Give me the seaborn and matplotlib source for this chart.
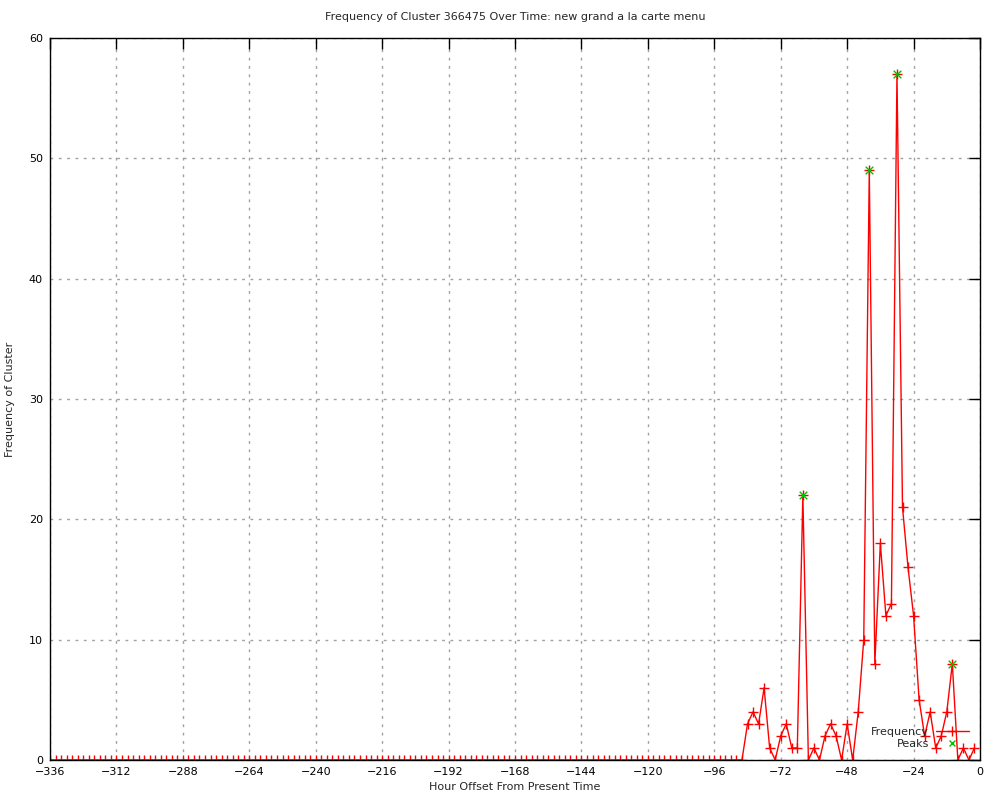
import numpy as np
import pandas as pd
import matplotlib
matplotlib.use("Agg")
import matplotlib.pyplot as plt
import seaborn as sns
from matplotlib.lines import Line2D

# hours from -336 to -2 in steps of 2; zero until -86
hours = list(range(-336, 0, 2))
recent_hours = list(range(-84, 0, 2))
recent_freq = [3, 4, 3, 6, 1, 0, 2, 3, 1, 1, 22, 0, 1, 0, 2, 3, 2, 0, 3, 0, 4,
               10, 49, 8, 18, 12, 13, 57, 21, 16, 12, 5, 2, 4, 1, 2, 4, 8, 0, 1, 0, 1]
freq = [0] * (len(hours) - len(recent_freq)) + recent_freq

peak_hours = [-64, -40, -30, -10]
peak_freq = [22, 49, 57, 8]

x_ticks = list(range(-336, 1, 24))
y_ticks = list(range(0, 61, 10))

df = pd.DataFrame({"hour": hours, "freq": freq})
peaks = pd.DataFrame({"hour": peak_hours, "freq": peak_freq})

sns.set_style("white")
plt.rcParams["font.family"] = ["DejaVu Sans"]
plt.rcParams["font.size"] = 8

fig = plt.figure(figsize=(10, 8), dpi=100)
ax = fig.add_axes([0.05, 0.05, 0.93, 0.9025])

sns.lineplot(data=df, x="hour", y="freq", ax=ax, color="red", linewidth=1,
             marker="+", markersize=6.5, markeredgewidth=1, markeredgecolor="red")
sns.scatterplot(data=peaks, x="hour", y="freq", ax=ax, color="#00c000",
                marker="x", s=30, linewidth=1, zorder=3)

ax.set_xlim(-336, 0)
ax.set_ylim(0, 60)
ax.set_xticks(x_ticks)
ax.set_yticks(y_ticks)
ax.set_xticklabels([f"\u2212{abs(t)}" if t < 0 else str(t) for t in x_ticks])
ax.tick_params(direction="in", length=8, width=1, top=True, right=True,
               labelsize=8, colors="black", pad=5)
ax.grid(True, linestyle=(0, (2, 4)), color="#a0a0a0", linewidth=1)
for s in ax.spines.values():
    s.set_color("black")
    s.set_linewidth(1)

ax.set_title("Frequency of Cluster 366475 Over Time: new grand a la carte menu",
             fontsize=8, pad=13)
ax.set_xlabel("Hour Offset From Present Time", fontsize=8, labelpad=4)
ax.set_ylabel("Frequency of Cluster", fontsize=8, labelpad=10)

handles = [
    Line2D([], [], color="red", linewidth=1, marker="+", markersize=6.5),
    Line2D([], [], color="#00c000", linestyle="none", marker="x", markersize=5),
]
ax.legend(handles, ["Frequency", "Peaks"], loc="lower right",
          bbox_to_anchor=(1.0, 0.0), frameon=False, markerfirst=False,
          fontsize=8, handlelength=3.0, labelspacing=0.2, borderpad=0.5,
          handletextpad=0.6)

fig.savefig("out.png", dpi=100)
